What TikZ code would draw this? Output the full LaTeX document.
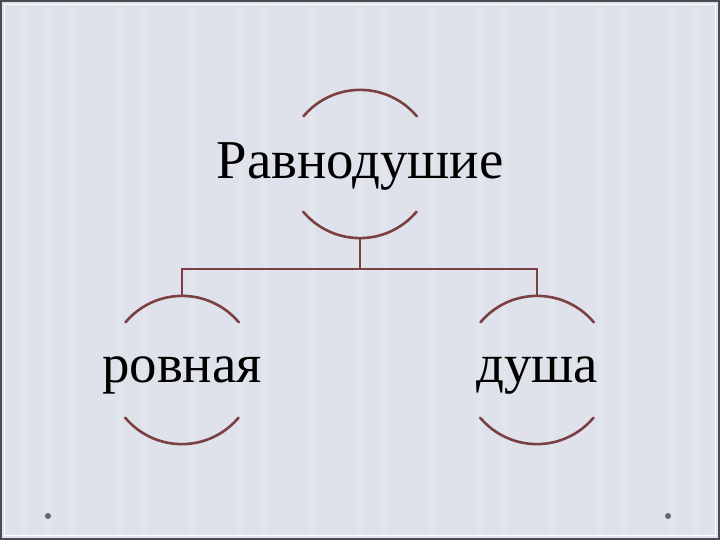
\documentclass[tikz,border=0pt]{standalone}
\usepackage{fontspec}
\setmainfont{Liberation Serif}
\usetikzlibrary{positioning}

\definecolor{slide}{HTML}{DFE2EA}
\definecolor{stripe}{HTML}{E3E5EC}
\definecolor{wine}{HTML}{7B4044}
\definecolor{rim}{HTML}{4A4C52}

\tikzset{
	ring/.style={circle, minimum size=148bp, inner sep=0pt},
	word/.style={text depth=0pt, inner sep=0pt, font=\fontsize{55}{60}\selectfont},
	halo/.style={wine, line width=2.6bp, line cap=round},
	link/.style={wine, line width=1.6bp}
}

\begin{document}
\begin{tikzpicture}[x=1bp, y=1bp]
	% slide
	\fill[slide] (0,0) rectangle (720,-540);
	\foreach \s in {22,46,70,118,142,190,238,262,310,358,382,430,478,502,550,598,622,670,694}
		\fill[stripe] (\s,0) rectangle ++(5,-540);
	\draw[rim, line width=2bp] (1,-1) rectangle (719,-539);
	\draw[white, line width=1.2bp] (4.5,-4.5) rectangle (715.5,-535.5);
	\fill[gray!80!black] (48,-516) circle (3bp) (668,-516) circle (3bp);

	\node[ring, label={[word, yshift=3bp]center:Равнодушие}] (ravn) at (360,-164) {};
	\node[ring, on grid, label={[word]center:ровная}] (rovn) [below left=206bp and 178bp of ravn] {};
	\node[ring, on grid, label={[word]center:душа}] (dush) [below right=206bp and 177bp of ravn] {};

	\coordinate[below=31bp of ravn.south] (fork);

	\foreach \n in {ravn,rovn,dush} {
		\draw[halo] (\n.40) arc[start angle=40, end angle=140, radius=74bp];
		\draw[halo] (\n.220) arc[start angle=220, end angle=320, radius=74bp];
	}

	\draw[link] (ravn.south) -- (fork);
	\draw[link] (rovn.north) |- (fork) -| (dush.north);
\end{tikzpicture}
\end{document}
